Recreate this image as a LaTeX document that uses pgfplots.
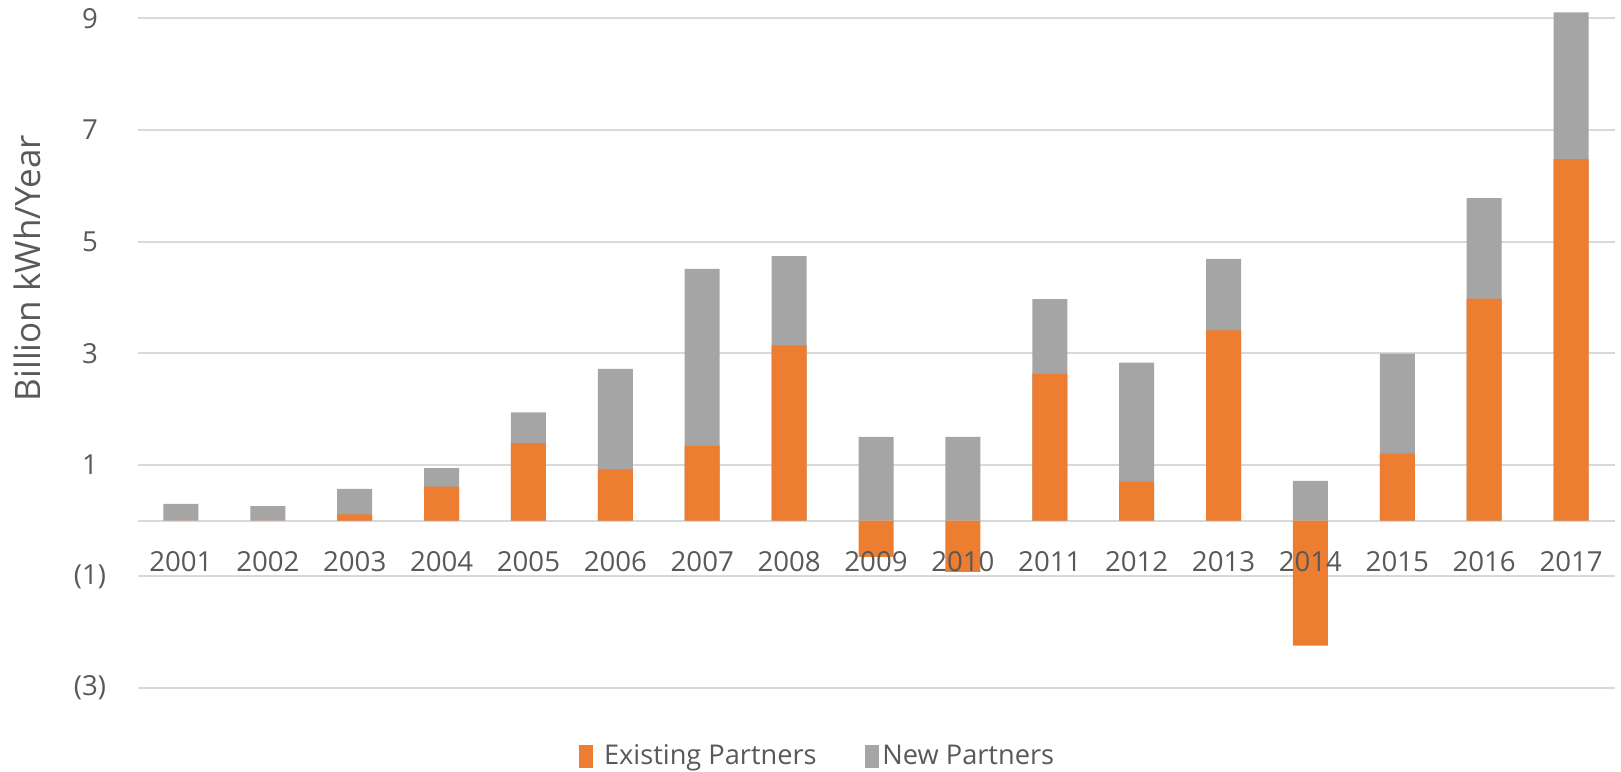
\documentclass[border=0pt]{standalone}
\usepackage{fontspec}
\setmainfont{Open Sans}
\usepackage{pgfplots}
\pgfplotsset{compat=1.18}
\usepackage{pgfplotstable}
\definecolor{exist}{HTML}{ED7D31}
\definecolor{newp}{HTML}{A5A5A5}
\definecolor{txt}{HTML}{595959}
\definecolor{grd}{HTML}{D9D9D9}

\pgfplotsset{
  layers/labelsontop/.define layer set={
    axis background,axis grid,axis ticks,axis lines,pre main,main,axis tick labels,axis descriptions,axis foreground
  }{
    grid style={/pgfplots/on layer=axis grid},
    tick style={/pgfplots/on layer=axis ticks},
    axis line style={/pgfplots/on layer=axis lines},
    label style={/pgfplots/on layer=axis descriptions},
    legend style={/pgfplots/on layer=axis descriptions},
    title style={/pgfplots/on layer=axis descriptions},
    ticklabel style={/pgfplots/on layer=axis tick labels},
    axis background@ style={/pgfplots/on layer=axis background},
  },
}

% x, existing partners, top of grey (new partners) bar
\pgfplotstableread{
x existing top
0  0.00  0.30
1  0.00  0.26
2  0.11  0.57
3  0.61  0.94
4  1.39  1.94
5  0.92  2.72
6  1.34  4.51
7  3.14  4.74
8  -0.65 1.50
9  -0.92 1.50
10 2.63  3.97
11 0.70  2.83
12 3.41  4.69
13 -2.24 0.71
14 1.20  2.99
15 3.98  5.78
16 6.48  9.11
}\data

\begin{document}
\begin{tikzpicture}
\begin{axis}[
  set layers=labelsontop,
  scale only axis, width=738.5pt, height=344pt,
  xmin=-0.5, xmax=16.5, ymin=-3, ymax=9.33,
  axis line style={draw=none},
  major tick length=0pt,
  xtick={0,...,16},
  xticklabels={2001,2002,2003,2004,2005,2006,2007,2008,2009,2010,2011,2012,2013,2014,2015,2016,2017},
  ytick={-3,-1,1,3,5,7,9},
  yticklabels={(3),(1),1,3,5,7,9},
  ymajorgrids, grid style={grd, line width=1pt},
  extra y ticks={0}, extra y tick labels={},
  extra y tick style={grid=major, grid style={grd, line width=1pt}},
  tick label style={font=\fontsize{13.8}{16}\selectfont, text=txt},
  xticklabel style={anchor=center, yshift=63.15pt},
  yticklabel style={anchor=center, xshift=-23.75pt},
  ylabel={Billion kWh/Year},
  ylabel style={at={(axis description cs:-0.0748,0.61)}, anchor=center, font=\fontsize{17.5}{20}\selectfont, text=txt},
  ybar, bar width=17.5pt,
  legend style={at={(axis description cs:0.4612,-0.0988)}, anchor=center, draw=none, fill=none,
    legend columns=2, font=\fontsize{13.6}{16}\selectfont, text=txt,
    /tikz/every even column/.append style={column sep=22pt}},
  clip=false,
]
\addplot[bar shift=0pt, fill=newp, draw=none, forget plot] table[x=x, y=top] {\data};
\addplot[bar shift=0pt, fill=exist, draw=none, forget plot] table[x=x, y=existing] {\data};
\addlegendimage{legend image code/.code={\fill[exist] (0pt,-5.5pt) rectangle (6.5pt,5.5pt); \path (10pt,0pt);}}
\addlegendentry{Existing Partners}
\addlegendimage{legend image code/.code={\fill[newp] (0pt,-5.5pt) rectangle (6.5pt,5.5pt); \path (6.5pt,0pt);}}
\addlegendentry{New Partners}
\end{axis}
\pgfresetboundingbox
\path[use as bounding box] ([xshift=-68.75pt,yshift=-42pt]current axis.south west) rectangle ([xshift=3.25pt]current axis.north east);
\end{tikzpicture}
\end{document}
